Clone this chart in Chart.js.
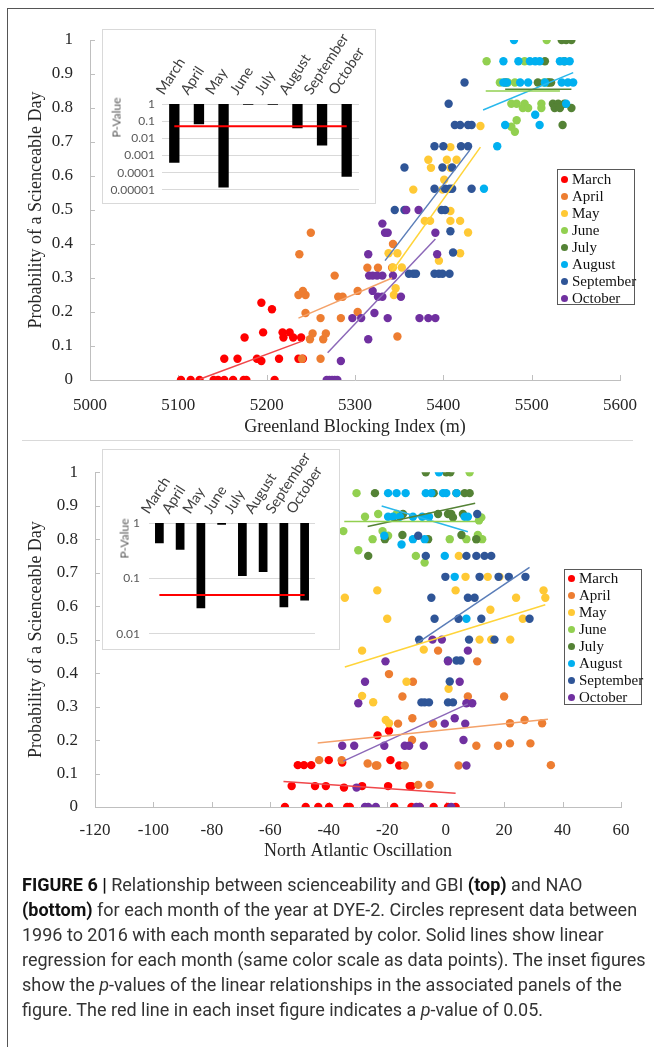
<!DOCTYPE html>
<html>
<head>
<meta charset="utf-8">
<script src="https://cdn.jsdelivr.net/npm/chart.js@4.4.1/dist/chart.umd.min.js"></script>
<style>
  body { margin: 0; width: 654px; height: 1047px; overflow: hidden; position: relative; background: #fff; }
  #frame { position: absolute; left: 7px; top: 8px; width: 700px; height: 1100px; border-left: 1.5px solid #555; border-top: 1.5px solid #555; }
  #sep { position: absolute; left: 22px; top: 440px; width: 611px; height: 0; border-top: 1.5px solid #d9d9d9; }
  canvas { position: absolute; }
  .box { position: absolute; background: #fff; border: 1px solid #d9d9d9; box-sizing: border-box; }
  .pv { position: absolute; font: 12px Lato, sans-serif; color: #595959; transform: rotate(-90deg); transform-origin: center; white-space: nowrap; }
  .legend { position: absolute; border: 1px solid #595959; box-sizing: border-box; background: #fff; font: 15px "Liberation Serif", serif; color: #111; }
  .legend div { height: 17px; line-height: 17px; position: relative; padding-left: 14px; white-space: nowrap; }
  .legend span { position: absolute; left: 3px; top: 5px; width: 7px; height: 7px; border-radius: 50%; }
  #caption { position: absolute; left: 22px; top: 872px; font: 18px Roboto, sans-serif; line-height: 25px; color: #333; white-space: nowrap; }
  #caption b { color: #111; }
</style>
</head>
<body>
<div id="frame"></div>
<div id="sep"></div>
<canvas id="topChart" width="654" height="450" style="left:0;top:0"></canvas>
<canvas id="bottomChart" width="654" height="430" style="left:0;top:445px"></canvas>

<div class="box" style="left:102px;top:29px;width:274px;height:175px"></div>
<canvas id="topInset" width="314" height="175" style="left:102px;top:29px"></canvas>
<div class="pv" style="left:96px;top:110px">P-Value</div>

<div class="box" style="left:102px;top:449px;width:238px;height:201px"></div>
<canvas id="bottomInset" width="278" height="201" style="left:102px;top:449px"></canvas>
<div class="pv" style="left:104px;top:531px">P-Value</div>

<div class="legend" id="topLegend" style="left:557px;top:169px;width:78px;height:136px;padding-top:1px"></div>
<div class="legend" id="bottomLegend" style="left:564px;top:569px;width:78px;height:136px;padding-top:0px"></div>

<div id="caption"><b>FIGURE 6 |</b> Relationship between scienceability and GBI <b>(top)</b> and NAO<br><b>(bottom)</b> for each month of the year at DYE-2. Circles represent data between<br>1996 to 2016 with each month separated by color. Solid lines show linear<br>regression for each month (same color scale as data points). The inset figures<br>show the <i>p</i>-values of the linear relationships in the associated panels of the<br>figure. The red line in each inset figure indicates a <i>p</i>-value of 0.05.</div>

<script>
const months = ['March', 'April', 'May', 'June', 'July', 'August', 'September', 'October'];
const colors = ['#FF0000', '#ED7D31', '#FFC935', '#92D050', '#548235', '#00B0F0', '#2F5597', '#7030A0'];
const lineColors = ['#F0474A', '#F4A26A', '#FFD43A', '#92D050', '#548235', '#29B8EC', '#5A7DB8', '#8C68B8'];

const probTicks = [0, 0.1, 0.2, 0.3, 0.4, 0.5, 0.6, 0.7, 0.8, 0.9, 1];
const gbiTicks = [5000, 5100, 5200, 5300, 5400, 5500, 5600];
const naoTicks = [-120, -100, -80, -60, -40, -20, 0, 20, 40, 60];

// top panel: [GBI, probability]
const topMarch = [[5103,0],[5114,0],[5124,0],[5140,0],[5145,0],[5152,0],[5162,0],[5174,0],[5177,0],[5209,0],
  [5152,0.0625],[5167,0.0625],[5189,0.0625],[5214,0.0625],[5236,0.0625],[5241,0.0625],[5194,0.056],
  [5175,0.125],[5219,0.125],[5230,0.125],[5239,0.125],[5196,0.14],[5218,0.14],[5226,0.14],[5194,0.227],[5206,0.208]];
const topApril = [[5250,0.433],[5237,0.37],[5236,0.25],[5244,0.25],[5241,0.262],[5277,0.307],[5281,0.245],[5286,0.245],
  [5303,0.262],[5244,0.197],[5261,0.182],[5284,0.182],[5303,0.2],[5252,0.137],[5249,0.12],[5264,0.12],[5267,0.137],
  [5240,0.0625],[5261,0.0625],[5314,0.33],[5326,0.33],[5342,0.33],[5343,0.4],[5348,0.128]];
const topMay = [[5442,0.747],[5408,0.685],[5383,0.648],[5404,0.648],[5415,0.648],[5386,0.624],[5408,0.624],[5401,0.589],
  [5366,0.56],[5399,0.56],[5408,0.497],[5379,0.468],[5385,0.468],[5408,0.468],[5419,0.468],[5428,0.434],[5338,0.373],
  [5348,0.373],[5419,0.373],[5395,0.351],[5343,0.331],[5353,0.331],[5346,0.27],[5344,0.25]];
const topJune = [[5517,1],[5449,0.9375],[5492,0.9375],[5464,0.875],[5473,0.875],[5481,0.875],[5514,0.875],[5519,0.875],
  [5477,0.8125],[5483,0.8125],[5492,0.8125],[5511,0.8125],[5490,0.8],[5496,0.8],[5511,0.8],[5483,0.764],[5477,0.745],[5481,0.73]];
const topJuly = [[5534,1],[5539,1],[5545,1],[5515,0.9375],[5537,0.9375],[5507,0.875],[5519,0.875],[5522,0.875],[5470,0.875],
  [5524,0.8125],[5530,0.8125],[5537,0.8125],[5526,0.8],[5532,0.8],[5545,0.8],[5535,0.75]];
const topAugust = [[5480,1],[5468,0.9375],[5485,0.9375],[5498,0.9375],[5504,0.9375],[5509,0.9375],[5532,0.9375],[5537,0.9375],
  [5543,0.9375],[5468,0.875],[5472,0.875],[5487,0.875],[5496,0.875],[5515,0.875],[5534,0.875],[5541,0.875],[5547,0.875],
  [5539,0.8125],[5504,0.78],[5470,0.75],[5509,0.75],[5461,0.6875],[5446,0.5625]];
const topSeptember = [[5424,0.875],[5406,0.8125],[5413,0.75],[5419,0.75],[5428,0.75],[5432,0.75],[5390,0.6875],[5400,0.6875],
  [5420,0.6875],[5428,0.6875],[5356,0.625],[5399,0.625],[5410,0.625],[5390,0.5625],[5402,0.5625],[5407,0.5625],[5410,0.5625],
  [5432,0.5625],[5345,0.5],[5356,0.5],[5398,0.5],[5402,0.5],[5408,0.4375],[5411,0.375],[5361,0.3125],[5366,0.3125],
  [5369,0.3125],[5390,0.3125],[5395,0.3125],[5399,0.3125],[5407,0.3125]];
const topOctober = [[5268,0],[5271,0],[5274,0],[5277,0],[5280,0],[5284,0.056],[5315,0.12],[5297,0.182],[5307,0.182],[5322,0.197],
  [5337,0.182],[5373,0.182],[5383,0.182],[5391,0.182],[5326,0.245],[5331,0.245],[5320,0.262],[5352,0.245],[5316,0.307],
  [5320,0.307],[5325,0.307],[5331,0.307],[5343,0.307],[5315,0.37],[5334,0.433],[5337,0.433],[5331,0.46],[5358,0.5],
  [5372,0.5],[5391,0.433],[5393,0.37]];
// regression lines: [x0, y0, x1, y1]
const topFits = [[5124,0.002,5241,0.115],[5236,0.182,5342,0.30],[5342,0.32,5442,0.685],[5448,0.85,5532,0.85],
  [5470,0.855,5545,0.855],[5445,0.794,5547,0.904],[5334,0.351,5430,0.676],[5269,0.08,5391,0.415]];

// bottom panel: [NAO, probability]
const botMarch = [[-55,0],[-47.9,0],[-43.6,0],[-39.9,0],[-33.7,0],[-32.8,0],[-17.6,0],[-11.7,0],[-8.9,0],[-4.1,0],[0.8,0],[3.4,0],
  [-52.7,0.0625],[-44.7,0.0625],[-41,0.0625],[-34.8,0.058],[-28.6,0.0625],[-19.7,0.0625],[-12.3,0.0625],[-11.7,0.0625],
  [-50.6,0.125],[-48.5,0.125],[-46,0.125],[-40,0.14],[-35.4,0.133],[-18.9,0.14],[-15.9,0.124],[-23.3,0.214],[-19.4,0.228]];
const botApril = [[-43.3,0.14],[-35.6,0.14],[-26.7,0.13],[-23.9,0.124],[-23.4,0.124],[-14,0.124],[4.4,0.124],[-9.4,0.066],
  [-5.5,0.066],[-11.5,0.2],[-16.3,0.249],[-11.4,0.265],[-4.3,0.249],[10.5,0.183],[17.9,0.183],[-14.8,0.33],[7.6,0.33],
  [-19.4,0.397],[-11.2,0.374],[-2.6,0.467],[10.8,0.435],[22,0.25],[27,0.26],[33,0.25],[29,0.19],[22,0.19],[36,0.125],[20,0.33]];
const botMay = [[4.5,0.75],[6.8,0.6875],[14.4,0.6875],[18.4,0.6875],[-34.5,0.625],[-23.4,0.647],[3.4,0.647],[24.1,0.625],
  [33.5,0.647],[34.1,0.625],[-20,0.5625],[15.3,0.589],[26.4,0.5625],[11.6,0.5],[15.9,0.5],[22.1,0.5],[-28.6,0.467],
  [-7.5,0.47],[15.6,0.5],[-13.4,0.374],[1,0.353],[-28.6,0.332],[-24.8,0.313],[-20.5,0.26],[-19.4,0.25]];
const botJune = [[8.2,1],[-30.5,0.9375],[-27.6,0.867],[-23.1,0.875],[-16.8,0.875],[12.2,0.865],[-35,0.824],[-21.6,0.824],
  [-19.7,0.81],[11.4,0.856],[-25,0.8],[1.4,0.8],[7.1,0.8],[10.5,0.8],[12.5,0.8],[11,0.8125],[-29.9,0.767],[-10.2,0.75],[-7.2,0.73]];
const botJuly = [[-6.8,1],[0.2,1],[1.6,1],[-24.2,0.9375],[-4.1,0.9375],[3.7,0.9375],[6.5,0.9375],[8.2,0.9375],[-2.6,0.875],
  [0.8,0.875],[1.9,0.875],[5.9,0.875],[-14.6,0.875],[-14.8,0.8125],[5.4,0.8125],[-20.8,0.8],[-6,0.8],[10.5,0.8],[-26.5,0.75],[2.5,0.865]];
const botAugust = [[-2.3,1],[-19.7,0.9375],[-16.8,0.9375],[-13.7,0.9375],[-6.8,0.9375],[-4.9,0.9375],[-0.9,0.9375],[0.2,0.9375],
  [3.7,0.9375],[-19.7,0.867],[-18,0.867],[-15.7,0.867],[-11.2,0.867],[-8,0.867],[-5.7,0.867],[6.5,0.867],[7.6,0.867],
  [-21,0.81],[-11.2,0.8],[-7.2,0.8],[-15.1,0.784],[-0.3,0.75],[3.1,0.6875],[7.1,0.5625]];
const botSeptember = [[10.8,0.875],[-9.4,0.81],[-6.8,0.75],[7.1,0.75],[10.5,0.75],[13.3,0.75],[15.6,0.75],[-0.1,0.6875],
  [11.6,0.6875],[18.1,0.6875],[21.6,0.6875],[27.3,0.6875],[-4.9,0.625],[7.6,0.625],[9.9,0.625],[-3.8,0.5625],[4.4,0.5625],
  [12.2,0.5625],[28.7,0.5625],[-9.1,0.5],[8,0.5],[16.7,0.5],[0.8,0.4375],[3.7,0.4375],[5.1,0.4375],[1.4,0.375],
  [-8.3,0.3125],[-7.2,0.3125],[-5.7,0.3125],[0.8,0.3125],[2.5,0.3125]];
const botOctober = [[-27.6,0],[-26.5,0],[-23.9,0],[-10,0],[-8.9,0],[1.9,0],[-30.5,0.058],[-35.4,0.183],[-31.3,0.183],[-21,0.183],
  [-14,0.183],[-12.5,0.183],[-7.5,0.183],[6.1,0.2],[7.1,0.124],[-0.3,0.249],[3.1,0.265],[6.7,0.249],[-29.9,0.31],[7.1,0.31],
  [9.1,0.31],[-27.6,0.374],[4.8,0.374],[-20.6,0.435],[0.8,0.435],[7.6,0.467],[-4.5,0.5],[-1.3,0.5]];
const botFits = [[-55.5,0.076,3.4,0.041],[-43.8,0.191,35,0.262],[-34.5,0.418,34.1,0.604],[-34.7,0.853,11.6,0.853],
  [-26.7,0.838,10.1,0.907],[-21.9,0.899,7.6,0.822],[-10,0.488,28.7,0.716],[-35,0.137,7.6,0.308]];

// insets: p-values per month
const pTop = [0.00038, 0.066, 0.0000135, 0.89, 0.89, 0.038, 0.0038, 0.000058];
const pBottom = [0.43, 0.33, 0.029, 0.93, 0.11, 0.13, 0.03, 0.04];
const pLine = [0.05, 0.05, 0.05, 0.05, 0.05, 0.05, 0.05, 0.05];
const topInsetTicks = [1, 0.1, 0.01, 0.001, 0.0001, 0.00001];
const bottomInsetTicks = [1, 0.1, 0.01];

const serif = 'Liberation Serif';
const textColor = '#262626';

// Excel style tick marks pointing into the plot
const innerTicks = {
  id: 'innerTicks',
  beforeDatasetsDraw(chart) {
    const { ctx, chartArea: a, scales: { x, y } } = chart;
    ctx.save();
    ctx.strokeStyle = '#bfbfbf';
    ctx.lineWidth = 1;
    ctx.beginPath();
    y.ticks.forEach((t, i) => {
      const py = Math.round(y.getPixelForTick(i)) + 0.5;
      ctx.moveTo(a.left, py);
      ctx.lineTo(a.left + 5, py);
    });
    x.ticks.forEach((t, i) => {
      const px = Math.round(x.getPixelForTick(i)) + 0.5;
      ctx.moveTo(px, a.bottom);
      ctx.lineTo(px, a.bottom - 5);
    });
    ctx.stroke();
    ctx.restore();
  }
};

function buildSets(series, fits) {
  const sets = [];
  fits.forEach((f, i) => {
    sets.push({
      type: 'line',
      data: [{ x: f[0], y: f[1] }, { x: f[2], y: f[3] }],
      borderColor: lineColors[i],
      borderWidth: 1.5,
      pointRadius: 0,
      fill: false,
      order: 0
    });
  });
  series.forEach((s, i) => {
    sets.push({
      type: 'scatter',
      data: s.map(([x, y]) => ({ x, y })),
      backgroundColor: colors[i],
      borderWidth: 0,
      pointRadius: 4.2,
      order: 20 - i
    });
  });
  return sets;
}

function mainOptions(o) {
  return {
    responsive: false,
    animation: false,
    events: [],
    layout: { padding: { left: 0, right: o.padR, top: o.padT, bottom: 0 } },
    plugins: { legend: { display: false }, tooltip: { enabled: false } },
    scales: {
      x: {
        type: 'linear', min: o.xTicks[0], max: o.xTicks[o.xTicks.length - 1],
        afterBuildTicks: s => { s.ticks = o.xTicks.map(v => ({ value: v })); },
        afterFit: s => { s.height = o.xH; },
        grid: { display: false, drawTicks: false },
        border: { display: true, color: '#bfbfbf', width: 1 },
        ticks: { autoSkip: false, padding: o.xPad, font: { family: serif, size: 17 }, color: textColor, callback: v => String(v) },
        title: { display: true, text: o.xTitle, color: textColor, font: { family: serif, size: 18 },
                 padding: { top: 0, bottom: o.xTitlePad } }
      },
      y: {
        min: 0, max: 1,
        afterBuildTicks: s => { s.ticks = probTicks.map(v => ({ value: v })); },
        afterFit: s => { s.width = o.yW; },
        grid: { display: false, drawTicks: false },
        border: { display: true, color: '#bfbfbf', width: 1 },
        ticks: { autoSkip: false, padding: 17, font: { family: serif, size: 17 }, color: textColor, callback: v => String(v) },
        title: { display: true, text: 'Probability of a Scienceable Day', color: textColor,
                 font: { family: serif, size: 18 }, padding: { top: 25, bottom: 0 } }
      }
    }
  };
}

new Chart(document.getElementById('topChart'), {
  type: 'scatter',
  data: { datasets: buildSets([topMarch, topApril, topMay, topJune, topJuly, topAugust, topSeptember, topOctober], topFits) },
  options: mainOptions({ xTicks: gbiTicks, padR: 34, padT: 40, xH: 70, yW: 90, xPad: 15, xTitlePad: 12,
                         xTitle: 'Greenland Blocking Index (m)' }),
  plugins: [innerTicks]
});

new Chart(document.getElementById('bottomChart'), {
  type: 'scatter',
  data: { datasets: buildSets([botMarch, botApril, botMay, botJune, botJuly, botAugust, botSeptember, botOctober], botFits) },
  options: mainOptions({ xTicks: naoTicks, padR: 33, padT: 15, xH: 68, yW: 95, xPad: 13, xTitlePad: 13,
                         xTitle: 'North Atlantic Oscillation' }),
  plugins: [innerTicks]
});

function insetChart(id, pvals, yTicks, o) {
  new Chart(document.getElementById(id), {
    type: 'bar',
    data: {
      labels: months,
      datasets: [
        { type: 'line', data: pLine, borderColor: '#FF0000', borderWidth: 2, pointRadius: 0, order: 0 },
        { type: 'bar', data: pvals.map(p => [p, 1]), backgroundColor: '#000', barPercentage: 0.42,
          categoryPercentage: 1, order: 1 }
      ]
    },
    options: {
      responsive: false,
      animation: false,
      events: [],
      layout: { padding: { left: 0, right: o.padR, top: 0, bottom: o.padB } },
      plugins: { legend: { display: false }, tooltip: { enabled: false } },
      scales: {
        x: {
          type: 'category', position: 'top',
          afterFit: s => { s.height = o.xH; },
          grid: { display: false, drawTicks: false },
          border: { display: false },
          ticks: { autoSkip: false, minRotation: 57, maxRotation: 57, padding: 6,
                   font: { family: 'Lato', size: 14.5 }, color: '#404040' }
        },
        y: {
          type: 'logarithmic', min: yTicks[yTicks.length - 1], max: 1,
          afterBuildTicks: s => { s.ticks = yTicks.map(v => ({ value: v })); },
          afterFit: s => { s.width = o.yW; },
          grid: { color: '#d9d9d9', drawTicks: false },
          border: { display: false },
          ticks: { autoSkip: false, padding: o.yPad, font: { family: 'Lato', size: 12 }, color: '#595959',
                   callback: v => String(v) }
        }
      }
    }
  });
}

insetChart('topInset', pTop, topInsetTicks, { padR: 57, padB: 8, xH: 75, yW: 60, yPad: 7 });
insetChart('bottomInset', pBottom, bottomInsetTicks, { padR: 65, padB: 15, xH: 74, yW: 47, yPad: 9 });

function buildLegend(id) {
  const el = document.getElementById(id);
  months.forEach((m, i) => {
    const row = document.createElement('div');
    const dot = document.createElement('span');
    dot.style.background = colors[i];
    row.appendChild(dot);
    row.appendChild(document.createTextNode(m));
    el.appendChild(row);
  });
}
buildLegend('topLegend');
buildLegend('bottomLegend');
</script>
</body>
</html>
